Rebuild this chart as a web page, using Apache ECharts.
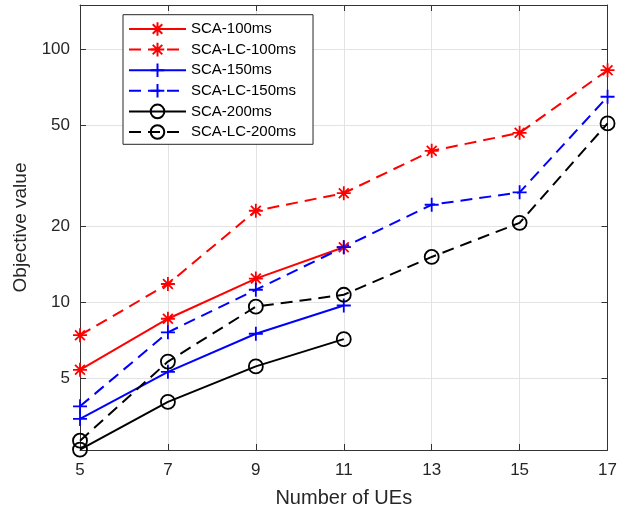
<!DOCTYPE html>
<html>
<head>
<meta charset="utf-8">
<script src="https://cdn.jsdelivr.net/npm/echarts@6/dist/echarts.min.js"></script>
<style>
html,body{margin:0;padding:0;background:#fff;}
#chart{width:620px;height:513px;}
</style>
</head>
<body>
<div id="chart"></div>
<script>
// ---- data ----
const ues = [5, 7, 9, 11, 13, 15, 17];
const xTicks = [5, 7, 9, 11, 13, 15, 17];
const yTicks = [5, 10, 20, 50, 100];
const seriesNames = ['SCA-100ms', 'SCA-LC-100ms', 'SCA-150ms', 'SCA-LC-150ms', 'SCA-200ms', 'SCA-LC-200ms'];
const sca100   = [5.4, 8.6, 12.4, 16.5];
const scaLc100 = [7.4, 11.8, 23.0, 27.0, 39.7, 46.8, 82.8];
const sca150   = [3.45, 5.3, 7.5, 9.7];
const scaLc150 = [3.87, 7.6, 11.2, 16.5, 24.3, 27.2, 65];
const sca200   = [2.61, 4.03, 5.57, 7.14];
const scaLc200 = [2.83, 5.82, 9.6, 10.7, 15.1, 20.6, 51];

// ---- styling ----
const FONT = "'Liberation Sans', Arial, Helvetica, sans-serif";
const TXT = '#262626';
const AX = '#333333';
const GRIDC = '#e3e3e3';
const STAR = 'path://M0,-10 L0,10 M-10,0 L10,0 M-7,-7 L7,7 M-7,7 L7,-7';
const PLUS = 'path://M0,-10 L0,10 M-10,0 L10,0';
const CIRC = 'path://M10,0 A10,10 0 1,1 -10,0 A10,10 0 1,1 10,0 Z';

function pairs(vals) { return vals.map((v, i) => [ues[i], v]); }

const defs = [
  { name: seriesNames[0], data: sca100,   color: '#ff0000', dash: false, sym: STAR },
  { name: seriesNames[1], data: scaLc100, color: '#ff0000', dash: true,  sym: STAR },
  { name: seriesNames[2], data: sca150,   color: '#0000ff', dash: false, sym: PLUS },
  { name: seriesNames[3], data: scaLc150, color: '#0000ff', dash: true,  sym: PLUS },
  { name: seriesNames[4], data: sca200,   color: '#000000', dash: false, sym: CIRC },
  { name: seriesNames[5], data: scaLc200, color: '#000000', dash: true,  sym: CIRC }
];

const series = defs.map(d => ({
  name: d.name,
  type: 'line',
  xAxisIndex: 0,
  yAxisIndex: 0,
  data: pairs(d.data),
  clip: false,
  symbol: d.sym,
  symbolSize: 14,
  symbolKeepAspect: true,
  showAllSymbol: true,
  lineStyle: { color: d.color, width: 2, type: d.dash ? [12, 7] : 'solid' },
  itemStyle: { color: 'none', borderColor: d.color, borderWidth: 1.8 },
  emphasis: { disabled: true },
  animation: false,
  z: 5
}));

const yCommon = {
  type: 'log',
  logBase: 10,
  min: 2.6,
  max: 150,
  gridIndex: 0
};

const option = {
  animation: false,
  backgroundColor: '#fff',
  textStyle: { fontFamily: FONT },
  grid: { left: 80, right: 9, top: 5, bottom: 63, containLabel: false },
  legend: {
    orient: 'vertical',
    left: 123,
    top: 14.7,
    data: seriesNames,
    itemWidth: 57,
    itemHeight: 17,
    itemGap: 2.0,
    padding: [5, 17, 3, 5],
    backgroundColor: '#fff',
    borderColor: '#262626',
    borderWidth: 1,
    borderRadius: 0,
    selectedMode: false,
    textStyle: { fontFamily: FONT, fontSize: 15, color: '#000', lineHeight: 17 },
    z: 10
  },
  xAxis: [
    {
      type: 'value', min: 5, max: 17, interval: 2,
      name: 'Number of UEs', nameLocation: 'middle', nameGap: 38,
      nameTextStyle: { fontFamily: FONT, fontSize: 20, color: TXT },
      axisLine: { show: true, onZero: false, lineStyle: { color: AX, width: 1 } },
      axisTick: { show: true, inside: true, length: 6, lineStyle: { color: AX } },
      axisLabel: { fontFamily: FONT, fontSize: 17, color: TXT, margin: 12,
                   customValues: xTicks },
      splitLine: { show: true, lineStyle: { color: GRIDC, width: 1 } }
    },
    {
      type: 'value', min: 5, max: 17, interval: 2, position: 'top',
      axisLine: { show: true, onZero: false, lineStyle: { color: AX, width: 1 } },
      axisTick: { show: true, inside: true, length: 6, lineStyle: { color: AX } },
      axisLabel: { show: false },
      splitLine: { show: false }
    }
  ],
  yAxis: [
    Object.assign({}, yCommon, {
      position: 'left',
      name: 'Objective value', nameLocation: 'middle', nameGap: 50,
      nameTextStyle: { fontFamily: FONT, fontSize: 19, color: TXT },
      axisLine: { show: true, onZero: false, lineStyle: { color: AX, width: 1 } },
      axisTick: { show: true, inside: true, length: 6, lineStyle: { color: AX }, customValues: yTicks },
      axisLabel: { fontFamily: FONT, fontSize: 17, color: TXT, margin: 10, customValues: yTicks },
      minorTick: { show: false },
      splitLine: { show: true, lineStyle: { color: GRIDC, width: 1 } }
    }),
    Object.assign({}, yCommon, {
      position: 'right',
      axisLine: { show: true, onZero: false, lineStyle: { color: AX, width: 1 } },
      axisTick: { show: true, inside: true, length: 6, lineStyle: { color: AX }, customValues: yTicks },
      axisLabel: { show: false, customValues: yTicks },
      splitLine: { show: false }
    })
  ],
  series: series
};

const chart = echarts.init(document.getElementById('chart'), null, { renderer: 'canvas' });
chart.setOption(option);
</script>
</body>
</html>
